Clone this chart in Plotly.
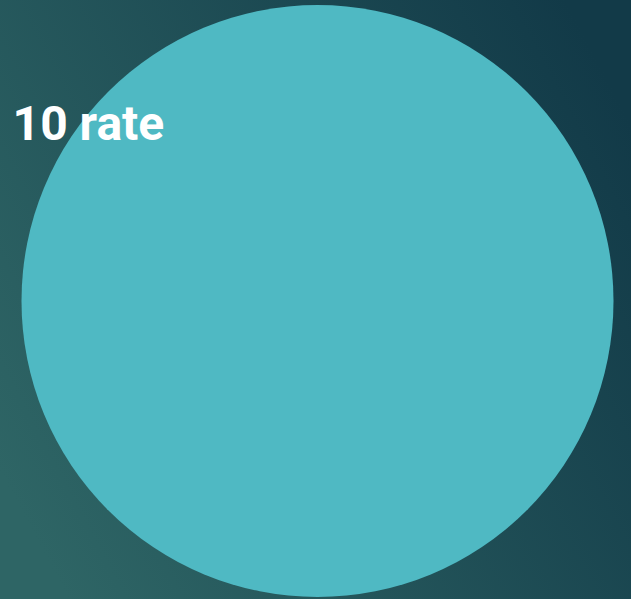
import base64
import plotly.graph_objects as go

labels = ["rate"]
values = [10]
slice_colors = ["#4fb9c3"]

svg = """<svg xmlns='http://www.w3.org/2000/svg' width='631' height='599' viewBox='0 0 631 599' preserveAspectRatio='none'>
<defs><linearGradient id='g' x1='0' y1='0.75' x2='1' y2='0.25'>
<stop offset='0' stop-color='#2e6565'/>
<stop offset='1' stop-color='#123a48'/>
</linearGradient></defs>
<rect width='631' height='599' fill='url(#g)'/></svg>"""
bg_uri = "data:image/svg+xml;base64," + base64.b64encode(svg.encode()).decode()

fig = go.Figure(go.Pie(
    labels=labels,
    values=values,
    marker=dict(colors=slice_colors, line=dict(width=0)),
    textinfo="none",
    hoverinfo="label+value",
    sort=False,
    showlegend=False,
))

fig.update_layout(
    width=631, height=599,
    margin=dict(l=4, r=0, t=5, b=2),
    paper_bgcolor="#22525a",
    title=dict(
        text=f"{values[0]} {labels[0]}",
        x=0.02, xanchor="left",
        y=0.795, yanchor="middle",
        font=dict(family="Roboto, 'Open Sans', sans-serif", size=48, color="white", weight="bold"),
    ),
    images=[dict(
        source=bg_uri, xref="paper", yref="paper",
        x=-0.02, y=1.02, sizex=1.04, sizey=1.04,
        xanchor="left", yanchor="top", sizing="stretch", layer="below",
    )],
)

fig.write_html("out.html", config={"displayModeBar": False},
               post_script="document.body.style.margin='0';document.body.style.overflow='hidden';")
